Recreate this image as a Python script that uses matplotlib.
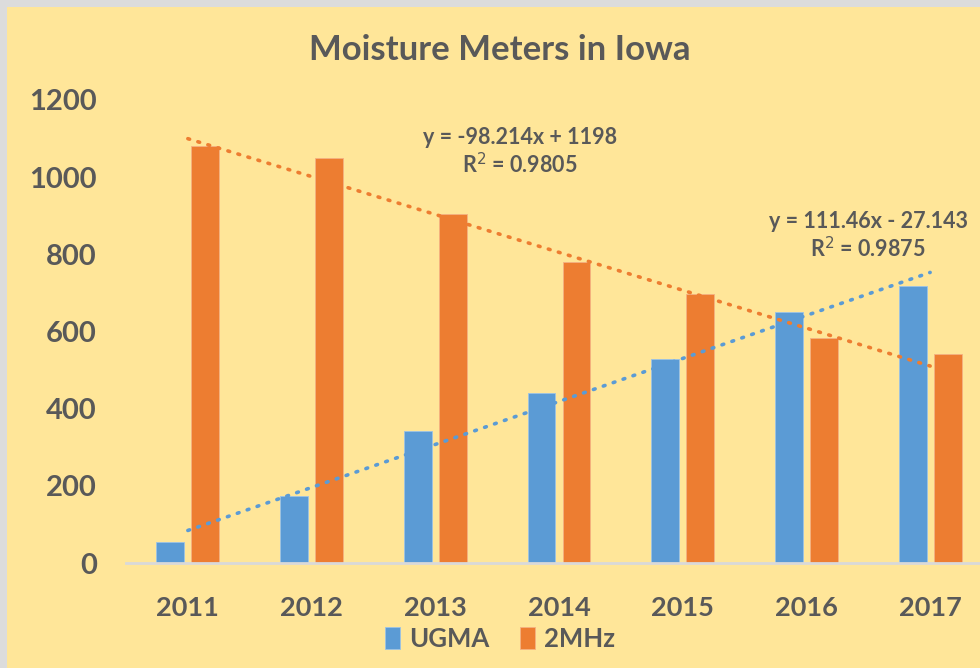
import matplotlib
matplotlib.use("Agg")
import matplotlib.pyplot as plt
from matplotlib.patches import Rectangle
import numpy as np

plt.rcParams['font.family'] = ['Lato', 'DejaVu Sans']

years = ['2011', '2012', '2013', '2014', '2015', '2016', '2017']
ugma = [54, 174, 342, 440, 529, 651, 718]
mhz2 = [1080, 1049, 904, 780, 697, 583, 542]
series_names = ['UGMA', '2MHz']
trend_ugma = (111.46, -27.143)
trend_mhz = (-98.214, 1198)
eq_ugma = ['y = 111.46x - 27.143', 'R$^{2}$ = 0.9875']
eq_mhz = ['y = -98.214x + 1198', 'R$^{2}$ = 0.9805']

BLUE = '#5B9BD5'
ORANGE = '#ED7D31'
BG = '#FFE699'
TXT = '#595959'

fig = plt.figure(figsize=(9.8, 6.68), dpi=100)
fig.patch.set_facecolor('#DCDCDC')
fig.patches.append(Rectangle((7/980, 0), 1, (668-7)/668, transform=fig.transFigure,
                             facecolor=BG, edgecolor='none', zorder=-5))

ax = fig.add_axes([126/980, 105/668, 866/980, 463/668])
ax.set_zorder(2)
ax.set_facecolor('none')

x = np.arange(1, len(years) + 1)
w = 0.226
gap = 0.057
off = (w + gap) / 2
ax.bar(x - off, ugma, w, color=BLUE, label=series_names[0], zorder=2,
       edgecolor='#9CC3E6', linewidth=0.6)
ax.bar(x + off, mhz2, w, color=ORANGE, label=series_names[1], zorder=2,
       edgecolor='#F4B183', linewidth=0.6)

xt = np.array([x[0], x[-1]], dtype=float)
ax.plot(xt, trend_ugma[0] * xt + trend_ugma[1], color=BLUE, lw=2.6,
        linestyle=(0, (0.5, 2.4)), dash_capstyle='round', zorder=3)
ax.plot(xt, trend_mhz[0] * xt + trend_mhz[1], color=ORANGE, lw=2.6,
        linestyle=(0, (0.5, 2.4)), dash_capstyle='round', zorder=3)

ax.set_xlim(0.5, 7.5)
ax.set_ylim(0, 1200)
ax.set_yticks(range(0, 1201, 200))
ax.set_xticks(x)
ax.set_xticklabels(years)
for s in ['top', 'right', 'left']:
    ax.spines[s].set_visible(False)
ax.spines['bottom'].set_color('#D9D9D9')
ax.spines['bottom'].set_linewidth(2)
ax.tick_params(axis='x', length=0, colors=TXT, labelsize=19.5, pad=24)
ax.tick_params(axis='y', length=0, colors=TXT, labelsize=21, pad=21)
for lab in ax.get_xticklabels() + ax.get_yticklabels():
    lab.set_fontweight('bold')

fig.text(500/980, 1 - 50/668, 'Moisture Meters in Iowa', ha='center', va='center',
         fontsize=25, fontweight='bold', color=TXT)

fig.text(520/980, 1 - 137/668, eq_mhz[0], ha='center', va='center',
         fontsize=15.5, fontweight='bold', color=TXT)
fig.text(520/980, 1 - 165/668, eq_mhz[1], ha='center', va='center',
         fontsize=15.5, fontweight='bold', color=TXT)
fig.text(868/980, 1 - 221/668, eq_ugma[0], ha='center', va='center',
         fontsize=15.5, fontweight='bold', color=TXT)
fig.text(868/980, 1 - 249/668, eq_ugma[1], ha='center', va='center',
         fontsize=15.5, fontweight='bold', color=TXT)

leg = fig.legend(loc='center', bbox_to_anchor=(500/980, 1 - 639/668), ncol=2,
                 frameon=False, fontsize=18.5, handlelength=0.6, handleheight=0.9,
                 handletextpad=0.35, columnspacing=1.2)
for t in leg.get_texts():
    t.set_color(TXT)
    t.set_fontweight('bold')

fig.savefig('out.png', dpi=100, facecolor=fig.get_facecolor())
